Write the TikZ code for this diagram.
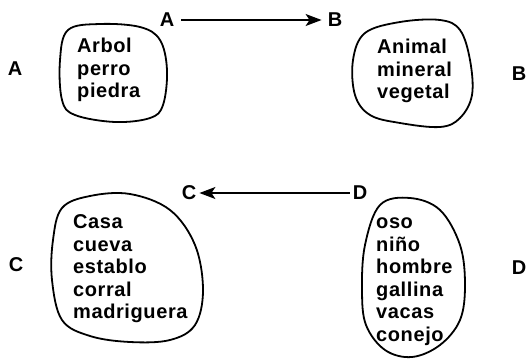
\documentclass[tikz,border=0pt]{standalone}
\usepackage{fontspec}
\setmainfont{Liberation Sans}[LetterSpace=3]
\usetikzlibrary{arrows.meta}
\begin{document}
\begin{tikzpicture}[x=1pt,y=-1pt,
  lbl/.style={font=\fontsize{20}{22.5}\selectfont\bfseries, inner sep=0pt},
  words/.style={font=\fontsize{20}{22.5}\selectfont\bfseries, align=left, inner sep=0pt, anchor=north west},
  blob/.style={line width=1.8pt, line join=round},
  conn/.style={line width=1.7pt, -{Stealth[length=16pt,width=12pt,inset=4pt]}}]
\useasboundingbox (0,0) rectangle (527,359);
% side labels
\node[lbl] (la) at (15,69) {A};
\node[lbl] (rb) at (519,74) {B};
\node[lbl] (lc) at (16,265) {C};
\node[lbl] (rd) at (519,268) {D};
% arrow labels
\node[lbl] (ta) at (167,20) {A};
\node[lbl] (tb) at (335,20) {B};
\node[lbl] (tc) at (189,193) {C};
\node[lbl] (td) at (360,193) {D};
% connectors
\draw[conn, shorten <=7pt, shorten >=6pt] (ta.east) -- (tb.west);
\draw[conn, shorten <=3pt, shorten >=3pt] (td.west) -- (tc.east);
% blobs
\draw[blob] plot[smooth cycle, tension=0.6] coordinates {
  (68,30) (100,24) (140,27) (160,40) (167,70) (163,105) (150,118) (115,122) (75,115) (62,100) (60,60)};
\draw[blob] plot[smooth cycle, tension=0.6] coordinates {
  (365,33) (400,22) (440,20) (460,30) (470,60) (472,95) (460,118) (440,127) (400,123) (370,115) (355,95) (353,60)};
\draw[blob] plot[smooth cycle, tension=0.6] coordinates {
  (62,208) (90,196) (130,194) (170,210) (195,245) (203,290) (195,325) (170,340) (130,342) (90,336) (62,320) (52,280) (53,240)};
\draw[blob] plot[smooth cycle, tension=0.6] coordinates {
  (380,205) (410,198) (440,210) (460,245) (465,285) (460,320) (440,345) (412,357) (385,350) (366,325) (362,290) (365,245)};
% blob texts
\node[words] (wa) at (77,38) {\rule{0pt}{14.3pt}Arbol\\perro\\piedra};
\node[words] (wb) at (377,39) {\rule{0pt}{14.3pt}Animal\\mineral\\vegetal};
\node[words] (wc) at (73,214) {\rule{0pt}{14.3pt}Casa\\cueva\\establo\\corral\\madriguera};
\node[words] (wd) at (376,214) {\rule{0pt}{14.3pt}oso\\niño\\hombre\\gallina\\vacas\\conejo};
\end{tikzpicture}
\end{document}
